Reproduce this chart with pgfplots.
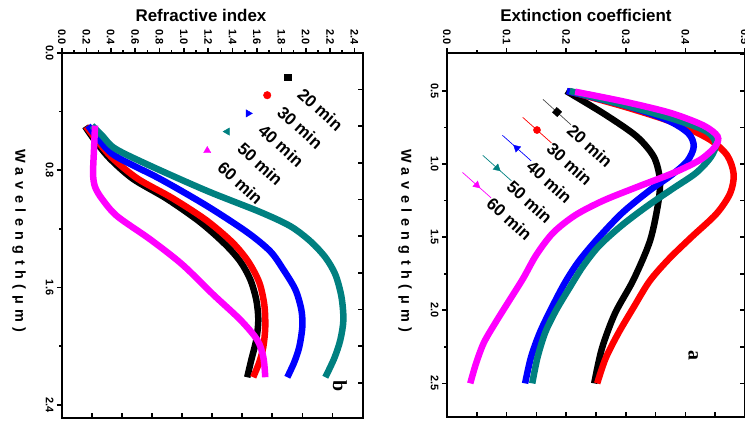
\documentclass[border=0pt]{standalone}
\usepackage{pgfplots}
\pgfplotsset{compat=1.18}
\usepackage{fontspec}
\setmainfont{Liberation Sans}
\newfontfamily\spacedfont[LetterSpace=38]{Liberation Sans}
\newfontfamily\seriffont{Liberation Serif}
\definecolor{cteal}{RGB}{0,128,128}
\definecolor{cmag}{RGB}{255,0,255}
\pgfplotsset{
  base/.style={
    scale only axis, anchor=south west,
    axis line style={line width=2.2bp},
    tick style={line width=1.6bp, black},
    major tick length=5bp, minor tick length=3bp,
    /pgf/number format/assume math mode=true,
    tick label style={font=\bfseries\fontsize{11}{12}\selectfont},
    y dir=reverse,
  },
  crv/.style={line width=6.5bp, smooth, no marks, forget plot},
  lgm/.style={only marks, forget plot},
  lgl/.style={line width=0.7bp, no marks, forget plot},
}
\tikzset{lgt/.style={rotate=-42, anchor=west, inner sep=0pt, font=\bfseries\fontsize{17}{18}\selectfont}}
\begin{document}
\begin{tikzpicture}[x=1bp,y=1bp]
\useasboundingbox (0,0) rectangle (745,421);
% ---------------- panel b ----------------
\begin{axis}[base, at={(62bp,3bp)}, width=301bp, height=365bp,
  xmin=0, xmax=2.47, ymin=0, ymax=2.49,
  xtick={0,0.2,...,2.41}, minor x tick num=1,
  ytick={0,0.8,1.6,2.4}, minor y tick num=1,
  xtick pos=upper, xticklabel pos=upper, ytick pos=left, tick align=outside,
  xticklabel style={rotate=-90, anchor=east, /pgf/number format/.cd, fixed, fixed zerofill, precision=1},
  yticklabel style={rotate=-90, anchor=north, /pgf/number format/.cd, fixed, fixed zerofill, precision=1},
]
\addplot[crv, black] coordinates {(0.189,0.501) (0.271,0.598) (0.394,0.721) (0.583,0.859) (0.863,0.996) (1.134,1.154) (1.339,1.305) (1.463,1.422) (1.545,1.545) (1.594,1.683) (1.611,1.820) (1.594,1.957) (1.553,2.095) (1.520,2.212)};
\addplot[crv, red] coordinates {(0.197,0.501) (0.288,0.598) (0.419,0.721) (0.624,0.859) (0.904,0.989) (1.183,1.140) (1.397,1.291) (1.528,1.422) (1.619,1.566) (1.660,1.717) (1.668,1.868) (1.652,2.005) (1.619,2.109) (1.569,2.212)};
\addplot[crv, blue] coordinates {(0.214,0.495) (0.296,0.584) (0.435,0.701) (0.805,0.859) (1.191,1.044) (1.520,1.223) (1.709,1.353) (1.816,1.477) (1.915,1.614) (1.964,1.751) (1.972,1.868) (1.947,2.005) (1.906,2.109) (1.849,2.212)};
\addplot[crv, cteal] coordinates {(0.247,0.495) (0.329,0.563) (0.436,0.652) (0.723,0.769) (1.191,0.941) (1.627,1.085) (1.873,1.181) (2.038,1.284) (2.161,1.394) (2.243,1.511) (2.293,1.662) (2.309,1.820) (2.284,1.957) (2.235,2.081) (2.161,2.212)};
\addplot[crv, cmag] coordinates {(0.271,0.495) (0.263,0.652) (0.255,0.824) (0.271,0.913) (0.329,0.996) (0.452,1.113) (0.723,1.271) (0.986,1.442) (1.241,1.648) (1.463,1.820) (1.602,1.957) (1.652,2.074) (1.668,2.212)};
% legend (markers only)
\addplot[lgm, mark=square*, black, mark size=3.5] coordinates {(1.849,0.165)};
\addplot[lgm, mark=*, red, mark size=3.8] coordinates {(1.684,0.288)};
\addplot[lgm, mark=triangle*, blue, mark size=4.2, mark options={rotate=-90}] coordinates {(1.528,0.412)};
\addplot[lgm, mark=triangle*, cteal, mark size=4.2, mark options={rotate=90}] coordinates {(1.356,0.536)};
\addplot[lgm, mark=triangle*, cmag, mark size=4.2] coordinates {(1.192,0.666)};
\node[lgt] at (axis cs:1.955,0.262) {20 min};
\node[lgt] at (axis cs:1.790,0.385) {30 min};
\node[lgt] at (axis cs:1.634,0.509) {40 min};
\node[lgt] at (axis cs:1.462,0.633) {50 min};
\node[lgt] at (axis cs:1.298,0.763) {60 min};
\node[rotate=-90, font=\seriffont\bfseries\fontsize{20}{20}\selectfont] at (axis cs:2.28,2.27) {b};
\end{axis}
\begin{axis}[base, at={(62bp,3bp)}, width=301bp, height=365bp,
  xmin=0, xmax=2.47, ymin=0, ymax=2.49,
  xtick distance=0.2465, ytick distance=0.25,
  xtick pos=lower, ytick pos=right, tick align=inside,
  xticklabels={}, yticklabels={}]
\end{axis}
% ---------------- panel a ----------------
\begin{axis}[base, at={(447bp,4bp)}, width=298bp, height=364bp,
  xmin=0, xmax=0.5, ymin=0.24, ymax=2.73,
  xtick={0,0.1,...,0.51}, minor x tick num=1,
  ytick={0.5,1.0,...,2.51}, minor y tick num=1,
  xtick pos=upper, xticklabel pos=upper, ytick pos=left, tick align=outside,
  xticklabel style={rotate=-90, anchor=east, /pgf/number format/.cd, fixed, fixed zerofill, precision=1},
  yticklabel style={rotate=-90, anchor=north, /pgf/number format/.cd, fixed, fixed zerofill, precision=1},
]
\addplot[crv, black] coordinates {(0.200,0.50) (0.265,0.66) (0.318,0.81) (0.347,0.95) (0.357,1.10) (0.355,1.25) (0.341,1.52) (0.313,1.79) (0.282,2.02) (0.260,2.26) (0.247,2.50)};
\addplot[crv, red] coordinates {(0.203,0.50) (0.300,0.61) (0.383,0.72) (0.440,0.83) (0.470,0.94) (0.481,1.07) (0.475,1.20) (0.452,1.34) (0.410,1.50) (0.372,1.65) (0.340,1.80) (0.313,1.98) (0.287,2.16) (0.266,2.33) (0.252,2.50)};
\addplot[crv, blue] coordinates {(0.201,0.50) (0.300,0.60) (0.370,0.70) (0.405,0.79) (0.414,0.88) (0.403,0.98) (0.375,1.08) (0.340,1.18) (0.295,1.33) (0.255,1.50) (0.222,1.66) (0.198,1.81) (0.176,1.98) (0.156,2.15) (0.141,2.32) (0.131,2.50)};
\addplot[crv, cteal] coordinates {(0.206,0.50) (0.310,0.61) (0.390,0.705) (0.437,0.78) (0.451,0.86) (0.443,0.95) (0.418,1.06) (0.378,1.17) (0.335,1.29) (0.293,1.42) (0.255,1.56) (0.228,1.70) (0.205,1.85) (0.183,2.00) (0.165,2.15) (0.152,2.32) (0.143,2.50)};
\addplot[crv, cmag] coordinates {(0.215,0.505) (0.300,0.575) (0.375,0.65) (0.430,0.735) (0.454,0.81) (0.450,0.88) (0.425,0.97) (0.380,1.06) (0.320,1.155) (0.262,1.25) (0.215,1.35) (0.178,1.47) (0.150,1.62) (0.128,1.78) (0.105,1.93) (0.082,2.08) (0.062,2.22) (0.049,2.36) (0.039,2.50)};
% legend (lines with markers)
\addplot[lgl, black!70] coordinates {(0.161,0.557) (0.208,0.731)};
\addplot[lgl, red] coordinates {(0.127,0.680) (0.175,0.854)};
\addplot[lgl, blue] coordinates {(0.093,0.803) (0.141,0.977)};
\addplot[lgl, cteal] coordinates {(0.060,0.940) (0.108,1.114)};
\addplot[lgl, cmag] coordinates {(0.026,1.057) (0.074,1.231)};
\addplot[lgm, mark=square*, black, mark size=3.3, mark options={rotate=-42}] coordinates {(0.1846,0.644)};
\addplot[lgm, mark=*, red, mark size=3.6] coordinates {(0.151,0.767)};
\addplot[lgm, mark=triangle*, blue, mark size=4.2, mark options={rotate=48}] coordinates {(0.117,0.890)};
\addplot[lgm, mark=triangle*, cteal, mark size=4.2, mark options={rotate=-132}] coordinates {(0.084,1.027)};
\addplot[lgm, mark=triangle*, cmag, mark size=4.2, mark options={rotate=-132}] coordinates {(0.050,1.144)};
\node[lgt] at (axis cs:0.206,0.752) {20 min};
\node[lgt] at (axis cs:0.172,0.875) {30 min};
\node[lgt] at (axis cs:0.138,0.998) {40 min};
\node[lgt] at (axis cs:0.105,1.135) {50 min};
\node[lgt] at (axis cs:0.071,1.252) {60 min};
\node[rotate=-90, font=\seriffont\bfseries\fontsize{20}{20}\selectfont] at (axis cs:0.413,2.31) {a};
\end{axis}
\begin{axis}[base, at={(447bp,4bp)}, width=298bp, height=364bp,
  xmin=0, xmax=0.5, ymin=0.24, ymax=2.73,
  xtick distance=0.05, ytick={0.25,0.5,...,2.76},
  xtick pos=lower, ytick pos=right, tick align=inside,
  xticklabels={}, yticklabels={}]
\end{axis}
% ---------------- titles and labels ----------------
\node[font=\bfseries\fontsize{17}{18}\selectfont] at (201,406) {Refractive index};
\node[font=\bfseries\fontsize{17}{18}\selectfont] at (586,406) {Extinction coefficient};
\node[rotate=-90, font=\spacedfont\bfseries\fontsize{14.5}{14.5}\selectfont] at (19,180) {Wavelength(μm)};
\node[rotate=-90, font=\spacedfont\bfseries\fontsize{14.5}{14.5}\selectfont] at (405,180) {Wavelength(μm)};
\end{tikzpicture}
\end{document}
